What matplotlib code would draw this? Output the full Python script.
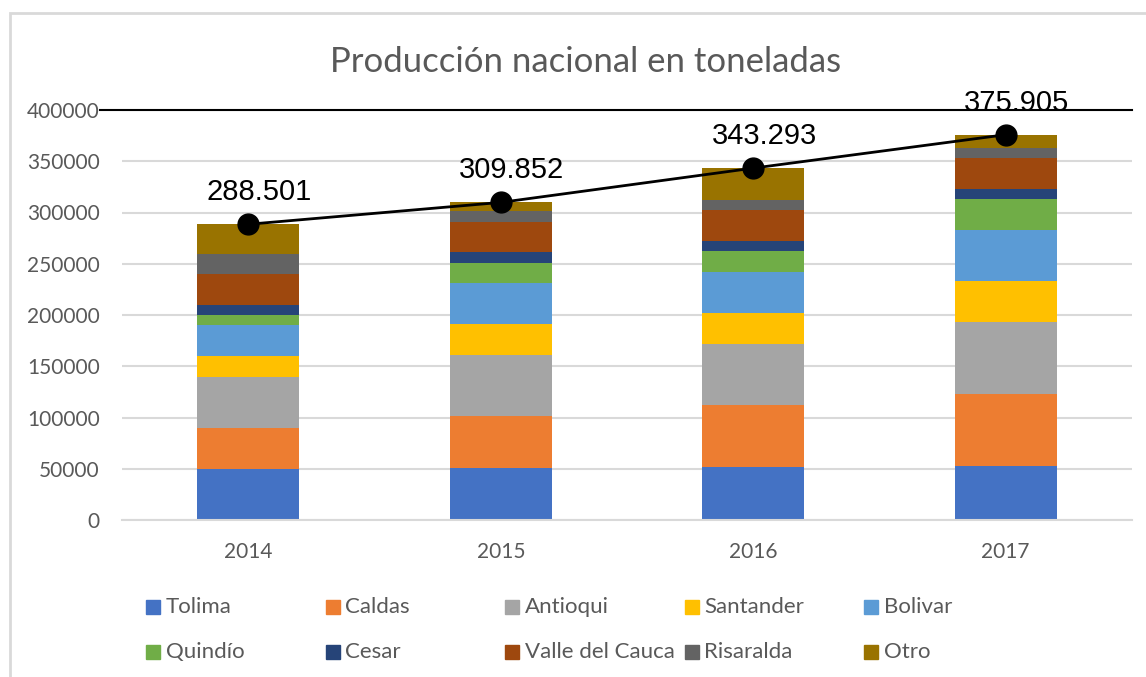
import numpy as np
from matplotlib import pyplot as plt
from matplotlib.lines import Line2D
from matplotlib.patches import Rectangle


years = ['2014', '2015', '2016', '2017']
regions = ['Tolima', 'Caldas', 'Antioqui', 'Santander', 'Bolivar',
           'Quindío', 'Cesar', 'Valle del Cauca', 'Risaralda', 'Otro']
colors = ['#4472C4', '#ED7D31', '#A5A5A5', '#FFC000', '#5B9BD5',
          '#70AD47', '#264478', '#9E480E', '#636363', '#997300']

# toneladas por departamento
tolima = [50000, 51000, 52000, 53000]
caldas = [40000, 50000, 60000, 70000]
antioqui = [50000, 60000, 60000, 70000]
santander = [20000, 30000, 30000, 40000]
bolivar = [30000, 40000, 40000, 50000]
quindio = [10000, 20000, 20000, 30000]
cesar = [10000, 10000, 10000, 10000]
valle = [30000, 30000, 30000, 30000]
risaralda = [20000, 10000, 10000, 10000]
otro = [28501, 8852, 31293, 12905]

totals = [288501, 309852, 343293, 375905]
total_labels = ['288.501', '309.852', '343.293', '375.905']

series = [tolima, caldas, antioqui, santander, bolivar,
          quindio, cesar, valle, risaralda, otro]

W, H = 1146, 677
fig = plt.figure(figsize=(W / 100, H / 100), dpi=100)
ax = fig.add_axes([122 / W, 1 - 520 / H, 1010 / W, 410 / H])

x = np.arange(len(years))
bottom = np.zeros(len(years))
for name, vals, col in zip(regions, series, colors):
    ax.bar(x, vals, 0.404, bottom=bottom, color=col, label=name, zorder=2)
    bottom += np.array(vals)

# linea de totales
ax.plot(x, totals, color='black', lw=2, marker='o', markersize=15, zorder=4)
for xi, t, lab in zip(x, totals, total_labels):
    ax.annotate(lab, (xi, t), xytext=(8, 23), textcoords='offset points',
                ha='center', va='center', fontsize=21,
                family='Liberation Sans', color='black', zorder=5)

ax.set_xlim(-0.5, 3.5)
ax.set_ylim(0, 400000)
ax.set_yticks(np.arange(0, 400001, 50000))
ax.set_xticks(x)
ax.set_xticklabels(years)
ax.yaxis.grid(True, color='#D9D9D9', lw=1.5, zorder=0)
ax.set_axisbelow(True)
for s in ['top', 'right', 'left']:
    ax.spines[s].set_visible(False)
ax.spines['bottom'].set_color('#D9D9D9')
ax.spines['bottom'].set_linewidth(1.5)
ax.tick_params(length=0, labelsize=15, labelcolor='#595959')
ax.tick_params(axis='y', pad=16)
ax.tick_params(axis='x', pad=16)
for t in ax.get_xticklabels() + ax.get_yticklabels():
    t.set_family('Lato')

fig.text(586 / W, 1 - 62 / H, 'Producción nacional en toneladas',
         ha='center', va='center', fontsize=25, color='#595959', family='Lato')

# linea negra en 400000 y marco
fig.add_artist(Line2D([100 / W, 1132 / W], [1 - 110 / H, 1 - 110 / H],
                      color='black', lw=1.5))
fig.add_artist(Rectangle((10 / W, -0.1), 1.2, 1.1 - 13 / H, fill=False,
                         edgecolor='#D9D9D9', lw=2, transform=fig.transFigure))

# leyenda en filas, como en Excel
for i, (name, col) in enumerate(zip(regions, colors)):
    cx = 146 + 179.5 * (i % 5)
    cy = 607 + 45 * (i // 5)
    fig.add_artist(Rectangle((cx / W, 1 - (cy + 7) / H), 14 / W, 14 / H,
                             color=col, transform=fig.transFigure))
    fig.text((cx + 20) / W, 1 - cy / H, name, ha='left', va='center',
             fontsize=16, color='#595959', family='Lato')

fig.savefig('out.png', dpi=100)
